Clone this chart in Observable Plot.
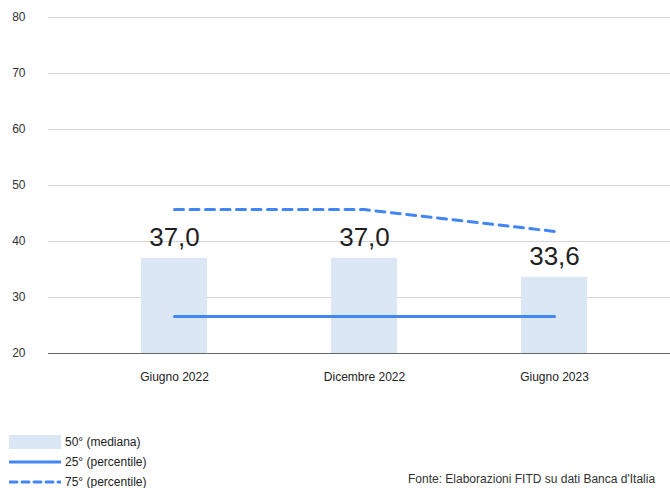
<!DOCTYPE html>
<html>
<head>
<meta charset="utf-8">
<script src="https://cdn.jsdelivr.net/npm/d3@7"></script>
<script src="https://cdn.jsdelivr.net/npm/@observablehq/plot@0.6"></script>
<style>
  html, body { margin: 0; padding: 0; background: #fff; overflow: hidden; }
  body { width: 670px; height: 488px; position: relative; font-family: "Liberation Sans", Arial, sans-serif; }
  #chart { position: absolute; left: 0; top: 0; }
  .leg { position: absolute; left: 9px; font-size: 12px; color: #222; display: flex; align-items: center; height: 16px; }
  .leg svg { margin-right: 4px; }
  #caption { position: absolute; left: 408px; top: 472px; font-size: 12px; line-height: 14px; color: #333; white-space: nowrap; }
</style>
</head>
<body>
<div id="chart"></div>
<div class="leg" style="top:434px"><svg width="52" height="14"><rect x="0" y="0" width="52" height="14" fill="#dce7f5"/></svg>50° (mediana)</div>
<div class="leg" style="top:454px"><svg width="52" height="14"><line x1="1" x2="51" y1="7" y2="7" stroke="#4285f4" stroke-width="3" stroke-linecap="round"/></svg>25° (percentile)</div>
<div class="leg" style="top:474px"><svg width="52" height="14"><line x1="1" x2="51" y1="7" y2="7" stroke="#4285f4" stroke-width="3" stroke-dasharray="7,5" stroke-linecap="round"/></svg>75° (percentile)</div>
<div id="caption">Fonte: Elaborazioni FITD su dati Banca d'Italia</div>
<script>
const categories = ["Giugno 2022", "Dicembre 2022", "Giugno 2023"];
const mediana = [37.0, 37.0, 33.6];
const p25 = [26.6, 26.6, 26.6];
const p75 = [45.7, 45.7, 41.8];
const valueLabels = ["37,0", "37,0", "33,6"];
const yTicks = [20, 30, 40, 50, 60, 70, 80];

const data = categories.map((c, i) => ({cat: c, med: mediana[i], p25: p25[i], p75: p75[i], label: valueLabels[i]}));
const blue = "#4285f4";

const chart = Plot.plot({
  width: 670,
  height: 390,
  marginTop: 17,
  marginBottom: 37,
  marginLeft: 48,
  marginRight: 0,
  style: {fontFamily: "'Liberation Sans', Arial, sans-serif", fontSize: "12px", color: "#333", background: "#fff"},
  x: {domain: categories, range: [17.5, 711.5], paddingInner: 0.6526, paddingOuter: 0.6526, label: null},
  y: {domain: [20, 80], label: null},
  marks: [
    Plot.ruleY(yTicks.filter(d => d !== 20), {stroke: "#d4d4d4", strokeWidth: 1}),
    Plot.barY(data, {x: "cat", y1: 20, y2: "med", fill: "#dce7f5"}),
    Plot.ruleY([20], {stroke: "#666", strokeWidth: 1}),
    Plot.lineY(data, {x: "cat", y: "p25", stroke: blue, strokeWidth: 3}),
    Plot.lineY(data, {x: "cat", y: "p75", stroke: blue, strokeWidth: 3, strokeDasharray: "9,6.5"}),
    Plot.text(data, {x: "cat", y: "med", text: "label", lineAnchor: "bottom", dy: -12, fontSize: 26, fill: "#1f1f24"}),
    Plot.axisY(yTicks, {tickSize: 0, tickPadding: 23, fontSize: 12, fill: "#333", label: null}),
    Plot.axisX({tickSize: 0, tickPadding: 19, fontSize: 12, fill: "#222", label: null})
  ]
});
document.getElementById("chart").appendChild(chart);
</script>
</body>
</html>
